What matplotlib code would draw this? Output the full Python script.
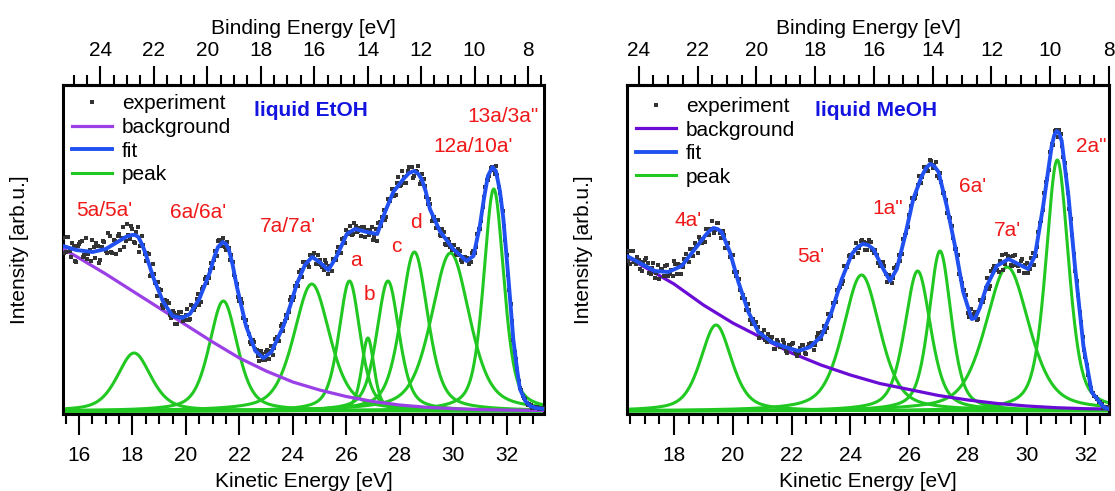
import numpy as np
import matplotlib
matplotlib.use("Agg")
import matplotlib.pyplot as plt
from matplotlib.ticker import MultipleLocator, FixedLocator

plt.rcParams['font.family'] = ['Liberation Sans', 'DejaVu Sans']

PHOTON_ENERGY = 40.8  # eV, BE = hv - KE
be_ticks = [24, 22, 20, 18, 16, 14, 12, 10, 8]

# ---------------- liquid EtOH ----------------
etoh_ke_range = (15.4, 33.4)
etoh_peak_labels = ["5a/5a'", "6a/6a'", "7a/7a'", "a", "b", "c", "d", "12a/10a'", "13a/3a\""]
etoh_peak_center = [18.06, 21.40, 24.71, 26.12, 26.81, 27.56, 28.55, 29.90, 31.52]
etoh_peak_height = [58, 110, 127, 130, 73, 130, 159, 158, 222]
etoh_peak_fwhm = [1.5, 1.25, 1.6, 0.95, 0.55, 1.0, 1.2, 1.7, 0.9]
etoh_bg_ke = [15.4, 16.0, 17.0, 18.0, 19.0, 20.0, 21.0, 22.0, 23.0, 24.0, 25.0,
              26.0, 27.0, 28.0, 29.0, 30.0, 31.0, 32.0, 33.4]
etoh_bg_val = [162, 153, 137, 120, 103, 86, 69, 53, 40, 29, 21,
               14.5, 9.5, 6, 3.7, 2.3, 1.4, 0.9, 0.5]
etoh_fit_ke = [15.4, 15.9, 16.5, 17.0, 17.5, 17.75, 17.97, 18.1, 18.22, 18.35,
               18.47, 18.8, 19.15, 19.5, 19.85, 20.15, 20.5, 20.9, 21.05, 21.2,
               21.38, 21.5, 21.6, 21.75, 21.9, 22.25, 22.6, 22.9, 23.2, 23.65,
               23.9, 24.15, 24.45, 24.72, 25.0, 25.33, 25.65, 26.02, 26.33, 26.77,
               27.16, 27.45, 27.76, 28.14, 28.35, 28.54, 28.7, 28.82, 28.97, 29.13,
               29.5, 30.0, 30.5, 30.76, 31.0, 31.15, 31.3, 31.47, 31.6, 31.75,
               31.88, 32.07, 32.25, 32.4, 32.5, 32.7, 32.88, 33.1, 33.4]
etoh_fit_val = [165, 161, 159, 162, 170, 174, 176, 176, 174, 167,
                159, 132, 109, 95, 93, 97, 112, 139, 153, 164,
                169, 167, 162, 146, 125, 85, 60, 53, 59, 85,
                105, 127, 146, 154, 149, 141, 155, 177, 182, 179,
                177, 199, 219, 232, 238, 240, 237, 232, 220, 202,
                180, 162, 150, 155, 185, 212, 235, 244, 240, 220,
                192, 132, 72, 40, 22, 10, 5, 3, 2]
# scatter of the measured points around the fit (every 0.1 eV, two interleaved sets)
etoh_residual_a = [8, -5, 11, -9, 3, -12, 6, 10, -4, -8, 2, 12, -7, 5, -10, 9, -2, 14, -6, 4,
                   -11, 7, 1, -9, 13, -3, 6, -8, 10, -5, 2, -7, 9, -4, 5, -10, 3,
                   -6, 4, 7, -3, 5, -7, 2, 6, -4, 1, -5, 7, -2, 4, -6, 3, 6, -4, 2,
                   -5, 3, 6, -2, 4, -6, 1, 5, -3, 2, -4, 6, -1, 3, -5, 4, 2, -3, 5, -2,
                   4, -5, 6, -2, 3, -6, 5, 1, -4, 6, -3, 2, -5, 4, 6, -1, -6, 3, 5, -4,
                   2, -3, 7, -5, 1, 4, -2, 6, -6, 3, 5, -1, -4, 6, -3, 2, 4, -5, 1, 3,
                   -7, 5, 8, -3, 6, -8, 2, 7, -5, 4, -2, 9, -6, 3, 5, -7, 1, 8, -4, 6,
                   -3, 7, -8, 2, 5, -4, 6, -6, 3, -2,
                   4, -3, 5, -4, 2, 3, -5, 4, -2, 5, -3, 1, 4, -4, 3, -2, 5, -3, 2, -1,
                   2, -1, 1, -2, 2, 1, -1, 2, -1, 1, 0, 1, -1, 1, 0]
etoh_residual_b = [-7, 10, -3, 6, -11, 4, 9, -6, 13, -2, -9, 5, 8, -12, 3, 7, -5, 11, -8, 2,
                   6, -10, 12, -4, 1, 9, -7, 4, -13, 8, -3, 6, -9, 11, -1, 7,
                   5, -6, 2, 7, -4, 3, -7, 5, 1, -3, 6, -5, 4, -2, 7, -6, 2, 5, -3,
                   4, -2, -5, 6, 1, -4, 5, -6, 3, 2, -5, 4, -3, 6, -1, -4, 5, 2, -6, 3,
                   -3, 5, 2, -6, 4, -1, 6, -5, 3, -2, 5, -4, 1, 6, -6, 3, -3, 4, 2, -5,
                   6, -2, -4, 5, 3, -6, 1, 4, -3, 5, -5, 2, 6, -4, 3, -1, -5, 4, 2, -3,
                   6, -4, -7, 5, 3, -8, 7, -2, 4, -6, 8, -3, 2, -7, 6, 5, -5, 1, -8, 7,
                   3, -4, 6, -2, -6, 8, -3, 4, -5, 2,
                   -3, 5, -2, 4, -5, 3, 1, -4, 5, -2, 3, -4, 2, 4, -3, 1, -5, 3, -2, 2,
                   1, -2, 2, -1, 1, -1, 2, 0, -1, 1, -1, 0, 1, 0, 1]

# ---------------- liquid MeOH ----------------
meoh_ke_range = (16.4, 32.8)
meoh_peak_labels = ["4a'", "5a'", "1a\"", "6a'", "7a'", "2a\""]
meoh_peak_center = [19.43, 24.38, 26.29, 27.05, 29.34, 31.04]
meoh_peak_height = [86, 136, 140, 160, 144, 251]
meoh_peak_fwhm = [1.25, 1.5, 1.05, 0.9, 1.76, 0.92]
meoh_bg_ke = [16.4, 17.0, 18.0, 19.0, 20.0, 21.0, 22.0, 23.0, 24.0, 25.0, 26.0,
              27.0, 28.0, 29.0, 30.0, 31.0, 32.0, 32.8]
meoh_bg_val = [154, 144, 127, 106, 88, 73, 58, 46, 36, 27.5, 21.5,
               15.5, 11, 7.5, 5, 3.3, 2.3, 2]
meoh_fit_ke = [16.4, 16.9, 17.35, 17.8, 18.26, 18.71, 19.05, 19.2, 19.34, 19.48,
               19.62, 19.9, 20.19, 20.53, 20.87, 21.32, 21.78, 22.23, 22.63, 23.02,
               23.36, 23.71, 24.05, 24.25, 24.42, 24.6, 24.78, 25.12, 25.35, 25.58,
               25.86, 26.14, 26.43, 26.58, 26.71, 26.85, 27.0, 27.28, 27.56, 27.84,
               28.0, 28.13, 28.25, 28.4, 28.64, 28.98, 29.38, 29.71, 30.05, 30.28,
               30.56, 30.85, 30.94, 31.02, 31.1, 31.19, 31.42, 31.64, 31.93, 32.21,
               32.61, 32.8]
meoh_fit_val = [155, 147, 140, 139, 145, 162, 175, 180, 183, 182,
                179, 159, 129, 99, 79, 69, 64, 60, 64, 75,
                99, 132, 157, 164, 167, 166, 162, 142, 130, 142,
                175, 212, 235, 243, 247, 245, 239, 205, 165, 119,
                104, 92, 93, 103, 125, 145, 152, 147, 142, 155,
                205, 265, 276, 280, 278, 270, 215, 145, 65, 19,
                4, 2]
meoh_residual_a = [5, -6, 8, -3, 2, -7, 6, 4, -5, 7, -2, -8, 3, 6, -4, 1, 8, -6, 2, -3,
                   7, -5, 4, 6, -7, 3, -1, 5, -4, 8, -2, 6, -6, 3, 1, -5, 7, -3, 4, -6, 2, 5,
                   -4, 3, 6, -5, 2, -3, 5, 1, -6, 4, -2, 6, -4, 3, 5, -1, -5, 2, 4, -6,
                   3, 1, -3, 6, -2, 4, -5, 2, 5, -3, 1, -4, 6, -2,
                   3, -5, 6, -2, 4, -6, 2, 5, -3, 1, -4, 6, -1, 3, -5, 5, 2, -6, 4, -2,
                   3, 6, -4, 1, -5, 5, -2, 4, -3, 6, -6, 2, 3, -4, 5, -1, 4, -5, 2, 3,
                   -6, 7, 4, -5, 8, -3, 2, -7, 6, 5, -4, 3, -8, 6, 2, -5, 7, -2, 4, -6,
                   5, -3, 8, -4,
                   3, -4, 5, -2, 4, -5, 2, 3, -3, 4, -2,
                   2, -1, 2, -2, 1, 1, -1, 2, -1, 0, 1, -1, 1, 0]
meoh_residual_b = [-4, 7, -2, 5, -6, 3, 8, -5, 1, -7, 6, 2, -4, 7, -3, -6, 5, 3, -8, 4,
                   -1, 6, -5, 2, 7, -3, -6, 4, 1, -5, 6, -2, 3, -7, 5, 2, -4, 6, -3, 1, -5,
                   3, -5, 1, 4, -2, 6, -4, 2, 5, -6, 3, -1, 4, -5, 2, 6, -3, -2, 5, -4,
                   1, 3, -6, 4, -1, 2, -5, 6, -3, 1, 4, -2, -5, 3,
                   5, -3, 1, -6, 4, 2, -5, 6, -2, 3, -4, 1, 5, -6, 3, -2, 4, 6, -5, 2,
                   -3, 5, -1, -4, 6, -2, 3, -5, 4, 1, -6, 5, -3, 2, -1, 4, -4, 6, -2, 3,
                   7, -5, 3, 6, -8, 2, -4, 7, -6, 5, 1, -7, 8, -3, 4, -5, 6, -2, -6, 7,
                   3, -4, 5, -7,
                   -4, 3, -2, 5, -3, 2, 4, -5, 3, -2, 4,
                   -3, 2, -2, 1, 2, -1, 1, -2, 1, 0, -1, 1, 0, 1]

# ---------------- styles ----------------
GREEN = '#22C822'
BLUE = '#2050F0'
RED = '#F01818'
TITLE_BLUE = '#1414E0'
FS = 15


def pseudo_voigt(x, c, h, fwhm, eta=0.5):
    u = (x - c) / (fwhm / 2.0)
    return h * (eta / (1 + u ** 2) + (1 - eta) * np.exp(-np.log(2) * u ** 2))


def draw_panel(ax, ke_range, centers, heights, fwhms, bg_ke, bg_val, fit_ke, fit_val,
               resid_a, resid_b, bg_color, title, labels, label_pos, title_pos,
               legend_anchor):
    ke = np.linspace(ke_range[0], ke_range[1], 1200)
    comps = [pseudo_voigt(ke, c, h, w) for c, h, w in zip(centers, heights, fwhms)]

    ke_a = ke_range[0] + 0.1 * np.arange(len(resid_a))
    ke_b = ke_range[0] + 0.05 + 0.1 * np.arange(len(resid_b))
    ke_exp = np.concatenate([ke_a, ke_b])
    res = np.concatenate([np.array(resid_a, float), np.array(resid_b, float)])
    keep = ke_exp <= ke_range[1]
    ke_exp, res = ke_exp[keep], res[keep]
    exp_vals = np.interp(ke_exp, fit_ke, fit_val) + res

    for i, comp in enumerate(comps):
        ax.plot(ke, comp, color=GREEN, lw=2.2, zorder=2,
                label='peak' if i == 0 else None)
    ax.plot(bg_ke, bg_val, color=bg_color, lw=2.3, zorder=3, label='background')
    ax.plot(ke_exp, exp_vals, ls='none', marker='s', ms=2.2, mew=0,
            color='#333333', zorder=4, label='experiment')
    ax.plot(fit_ke, fit_val, color=BLUE, lw=2.8, zorder=5, label='fit',
            solid_joinstyle='round')

    ax.set_xlim(*ke_range)
    ax.set_ylim(-3, 326)
    ax.set_yticks([])
    ax.xaxis.set_major_locator(MultipleLocator(2))
    ax.xaxis.set_minor_locator(MultipleLocator(0.5))
    ax.tick_params(axis='x', which='major', direction='out', length=15, width=1.5,
                   pad=8, labelsize=FS)
    ax.tick_params(axis='x', which='minor', direction='out', length=7, width=1.5)
    for sp in ax.spines.values():
        sp.set_linewidth(2.2)
    ax.set_xlabel('Kinetic Energy [eV]', fontsize=FS, labelpad=5)
    ax.set_ylabel('Intensity [arb.u.]', fontsize=FS)
    ax.yaxis.set_label_coords(-0.071, 0.5)

    sec = ax.secondary_xaxis('top', functions=(lambda k: PHOTON_ENERGY - k,
                                               lambda b: PHOTON_ENERGY - b))
    sec.xaxis.set_major_locator(FixedLocator(be_ticks))
    sec.xaxis.set_minor_locator(MultipleLocator(0.5))
    sec.tick_params(which='major', direction='out', length=14, width=1.5, pad=4,
                    labelsize=FS)
    sec.tick_params(which='minor', direction='out', length=7, width=1.5)
    sec.spines['top'].set_linewidth(2.2)
    sec.set_xlabel('Binding Energy [eV]', fontsize=FS, labelpad=5)

    for lab, (x, y) in zip(labels, label_pos):
        ax.text(x, y, lab, color=RED, fontsize=FS, ha='center', va='center', zorder=6)
    ax.text(title_pos[0], title_pos[1], title, color=TITLE_BLUE, fontsize=FS,
            fontweight='bold', ha='center', va='center', zorder=6)

    h, l = ax.get_legend_handles_labels()
    order = ['experiment', 'background', 'fit', 'peak']
    hd = dict(zip(l, h))
    leg = ax.legend([hd[o] for o in order], order, loc='upper left',
                    bbox_to_anchor=legend_anchor, frameon=False, fontsize=FS,
                    handlelength=1.9, handletextpad=0.47, labelspacing=0.22,
                    borderpad=0.45, borderaxespad=0.0, markerscale=1.3)
    leg.set_zorder(7)


fig = plt.figure(figsize=(11.15, 4.91), dpi=100)
ax1 = fig.add_axes([63 / 1115, (491 - 414) / 491, 481 / 1115, 329 / 491])
ax2 = fig.add_axes([627 / 1115, (491 - 414) / 491, 482 / 1115, 329 / 491])

draw_panel(ax1, etoh_ke_range, etoh_peak_center, etoh_peak_height, etoh_peak_fwhm,
           etoh_bg_ke, etoh_bg_val, etoh_fit_ke, etoh_fit_val,
           etoh_residual_a, etoh_residual_b, '#9B40E6', 'liquid EtOH',
           etoh_peak_labels,
           [(16.93, 200), (20.47, 199), (23.82, 185), (26.35, 150), (26.86, 117),
            (27.89, 165), (28.61, 189), (30.73, 265), (31.85, 295)],
           (24.68, 300), (0.0, 1.0))

draw_panel(ax2, meoh_ke_range, meoh_peak_center, meoh_peak_height, meoh_peak_fwhm,
           meoh_bg_ke, meoh_bg_val, meoh_fit_ke, meoh_fit_val,
           meoh_residual_a, meoh_residual_b, '#6A0CD6', 'liquid MeOH',
           meoh_peak_labels,
           [(18.48, 190), (22.66, 154), (25.26, 202), (28.17, 224), (29.36, 181),
            (32.19, 265)],
           (24.87, 300), (0.0, 0.992))

fig.savefig('out.png', dpi=100)
